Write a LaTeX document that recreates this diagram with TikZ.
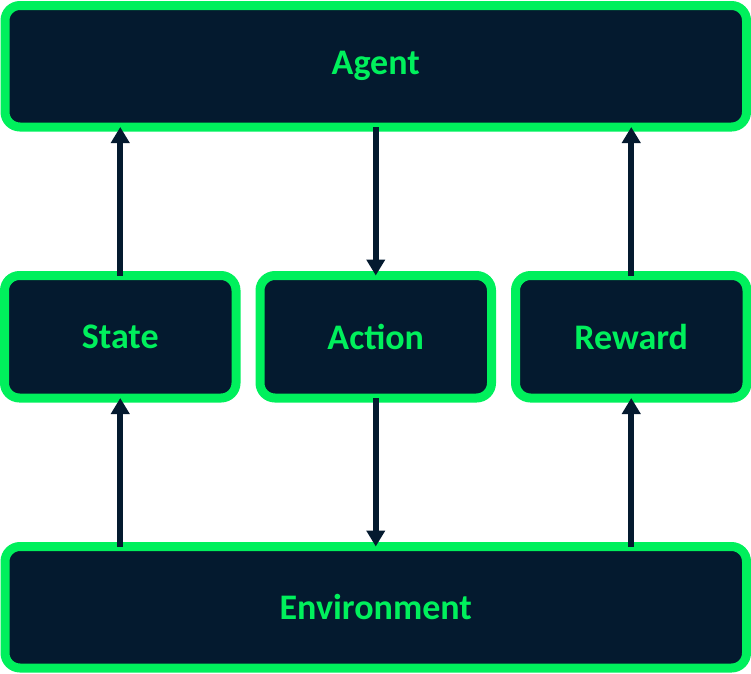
\documentclass[tikz,border=0pt]{standalone}
\usepackage{fontspec}
\setmainfont{Carlito}
\usetikzlibrary{arrows.meta}
\definecolor{navy}{HTML}{041A2F}
\definecolor{neon}{HTML}{00F05C}
\tikzset{
  box/.style = {draw = neon, fill = navy, line width = 9pt, rounded corners = 15pt,
    outer sep = 0pt, text = neon, font = \bfseries\fontsize{36}{42}\selectfont},
  flow/.style = {draw = navy, line width = 6pt, -{Triangle[width=18pt,length=16pt]}}
}
\begin{document}
\begin{tikzpicture}[x = 1pt, y = -1pt]

\useasboundingbox (0,0) rectangle (751,673);

\node[box, minimum width = 741.5pt, minimum height = 121.5pt] (agent) at (375.75,66.25) {Agent};
\node[box, minimum width = 231.5pt, minimum height = 122.5pt] (state) at (120.25,336.75) {State};
\node[box, minimum width = 231.5pt, minimum height = 122.5pt] (action) at (375.75,336.75) {Action};
\node[box, minimum width = 231.5pt, minimum height = 122.5pt] (reward) at (631.25,336.75) {Reward};
\node[box, minimum width = 741.5pt, minimum height = 121.5pt] (env) at (375.75,607.25) {Environment};

\foreach \n in {state,reward} {\draw[flow] (\n.north) -- (\n.north |- agent.south);}
\foreach \n in {state,reward} {\draw[flow] (\n.south |- env.north) -- (\n.south);}
\draw[flow] (agent.south -| action.north) -- (action.north);
\draw[flow] (action.south) -- (action.south |- env.north);

\end{tikzpicture}
\end{document}
